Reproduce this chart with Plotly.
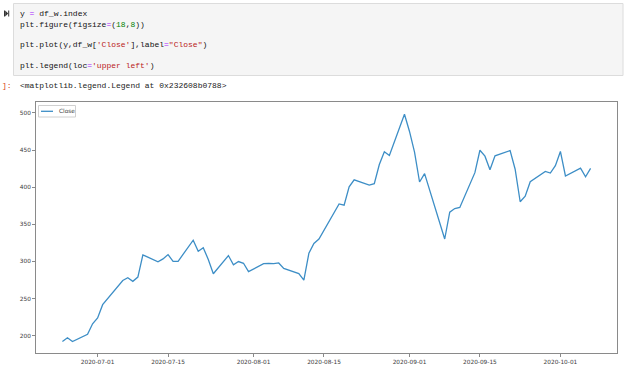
import plotly.graph_objects as go

# ---- data ----
dates = ["2020-06-24", "2020-06-25", "2020-06-26", "2020-06-29", "2020-06-30",
         "2020-07-01", "2020-07-02", "2020-07-06", "2020-07-07", "2020-07-08",
         "2020-07-09", "2020-07-10", "2020-07-13", "2020-07-14", "2020-07-15",
         "2020-07-16", "2020-07-17", "2020-07-20", "2020-07-21", "2020-07-22",
         "2020-07-23", "2020-07-24", "2020-07-27", "2020-07-28", "2020-07-29",
         "2020-07-30", "2020-07-31", "2020-08-03", "2020-08-04", "2020-08-05",
         "2020-08-06", "2020-08-07", "2020-08-10", "2020-08-11", "2020-08-12",
         "2020-08-13", "2020-08-14", "2020-08-17", "2020-08-18", "2020-08-19",
         "2020-08-20", "2020-08-21", "2020-08-24", "2020-08-25", "2020-08-26",
         "2020-08-27", "2020-08-28", "2020-08-31", "2020-09-01", "2020-09-02",
         "2020-09-03", "2020-09-04", "2020-09-08", "2020-09-09", "2020-09-10",
         "2020-09-11", "2020-09-14", "2020-09-15", "2020-09-16", "2020-09-17",
         "2020-09-18", "2020-09-21", "2020-09-22", "2020-09-23", "2020-09-24",
         "2020-09-25", "2020-09-28", "2020-09-29", "2020-09-30", "2020-10-01",
         "2020-10-02", "2020-10-05", "2020-10-06", "2020-10-07"]
close = [192.2, 197.2, 192.0, 201.9, 216.0,
         223.9, 241.7, 274.3, 278.0, 273.2,
         278.9, 308.9, 299.4, 303.4, 309.2,
         300.1, 300.2, 328.6, 313.7, 318.5,
         302.6, 283.4, 307.9, 295.3, 299.8,
         297.5, 286.2, 297.0, 297.4, 297.0,
         297.9, 290.5, 283.7, 274.9, 311.0,
         324.2, 330.1, 367.1, 377.4, 375.7,
         400.4, 410.0, 402.8, 404.7, 430.6,
         447.8, 442.7, 498.3, 475.1, 447.4,
         407.0, 418.3, 330.2, 366.3, 371.3,
         372.7, 419.6, 449.8, 441.8, 423.4,
         442.2, 449.4, 424.2, 380.4, 387.8,
         407.3, 421.2, 419.1, 429.0, 448.2,
         415.1, 425.7, 414.0, 425.3]
x_ticks = ["2020-07-01", "2020-07-15", "2020-08-01", "2020-08-15",
           "2020-09-01", "2020-09-15", "2020-10-01"]
y_ticks = [200, 250, 300, 350, 400, 450, 500]
series_name = "Close"

# ---- layout geometry (pixels) ----
W, H = 624, 366
L, R, T, B = 36, 617, 102, 353
PW, PH = R - L, B - T


def px(x):
    return (x - L) / PW


def py(y):
    return (B - y) / PH


LINE_COLOR = "#3d8ec6"
AX_COLOR = "#8a8a8a"

fig = go.Figure()
fig.add_trace(go.Scatter(x=dates, y=close, mode="lines", name=series_name,
                         line=dict(color=LINE_COLOR, width=1.3),
                         showlegend=False))

axis_common = dict(showline=True, linecolor=AX_COLOR, linewidth=1, mirror=True,
                   showgrid=False, zeroline=False, ticks="outside", ticklen=3,
                   tickcolor=AX_COLOR, tickwidth=1, automargin=False,
                   tickfont=dict(family="DejaVu Sans", size=5.8, color="#3a3a3a"))

fig.update_layout(
    width=W, height=H,
    margin=dict(l=L, r=W - R, t=T, b=H - B),
    paper_bgcolor="white", plot_bgcolor="white",
    xaxis=dict(type="date", range=["2020-06-18 18:00", "2020-10-12 06:00"],
               tickvals=x_ticks, ticktext=x_ticks, **axis_common),
    yaxis=dict(range=[176.6, 514.8], tickvals=y_ticks,
               ticktext=[str(v) for v in y_ticks], **axis_common),
)

shapes = []
# code cell box
shapes.append(dict(type="rect", xref="paper", yref="paper",
                   x0=px(13.5), x1=px(623), y0=py(3.5), y1=py(75.5),
                   fillcolor="#f5f5f5", line=dict(color="#dcdcdc", width=1),
                   layer="below"))
# run icon (bar + triangle + bar)
shapes.append(dict(type="rect", xref="paper", yref="paper",
                   x0=px(4), x1=px(5), y0=py(10.5), y1=py(16.5),
                   fillcolor="#333", line=dict(width=0)))
shapes.append(dict(type="path", xref="paper", yref="paper",
                   path="M %f %f L %f %f L %f %f Z" % (px(5.2), py(10.5), px(8.2), py(13.5), px(5.2), py(16.5)),
                   fillcolor="#333", line=dict(width=0)))
shapes.append(dict(type="rect", xref="paper", yref="paper",
                   x0=px(8.2), x1=px(9.2), y0=py(10.5), y1=py(16.5),
                   fillcolor="#333", line=dict(width=0)))
# legend box
shapes.append(dict(type="rect", xref="paper", yref="paper",
                   x0=px(38.5), x1=px(75.5), y0=py(105.5), y1=py(117),
                   fillcolor="white", line=dict(color="#d0d0d0", width=1)))
shapes.append(dict(type="line", xref="paper", yref="paper",
                   x0=px(41), x1=px(53), y0=py(111.3), y1=py(111.3),
                   line=dict(color=LINE_COLOR, width=1.3)))
fig.update_layout(shapes=shapes)

MONO = "Liberation Mono, DejaVu Sans Mono, monospace"
EQ = "#aa22ff"
NUM = "#008000"
STR = "#ba2121"


def c(txt, col):
    return '<span style="color:%s">%s</span>' % (col, txt)


code_lines = [
    (13.5, "y " + c("=", EQ) + " df_w.index"),
    (24.0, "plt.figure(figsize" + c("=", EQ) + "(" + c("18", NUM) + "," + c("8", NUM) + "))"),
    (45.0, "plt.plot(y,df_w[" + c("'Close'", STR) + "],label" + c("=", EQ) + c('"Close"', STR) + ")"),
    (66.0, "plt.legend(loc" + c("=", EQ) + c("'upper left'", STR) + ")"),
]

ann = []
for yy, txt in code_lines:
    ann.append(dict(xref="paper", yref="paper", x=px(17.5), y=py(yy), text=txt,
                    showarrow=False, xanchor="left", yanchor="middle",
                    font=dict(family=MONO, size=8, color="#111")))
ann.append(dict(xref="paper", yref="paper", x=px(0), y=py(85.5), text="]:",
                showarrow=False, xanchor="left", yanchor="middle",
                font=dict(family=MONO, size=8, color="#d84315")))
ann.append(dict(xref="paper", yref="paper", x=px(17.5), y=py(85.5),
                text="&lt;matplotlib.legend.Legend at 0x232608b0788&gt;",
                showarrow=False, xanchor="left", yanchor="middle",
                font=dict(family=MONO, size=8, color="#222")))
ann.append(dict(xref="paper", yref="paper", x=px(56.5), y=py(111.3), text=series_name,
                showarrow=False, xanchor="left", yanchor="middle",
                font=dict(family="DejaVu Sans", size=5.8, color="#3a3a3a")))
fig.update_layout(annotations=ann)

fig.write_html("out.html")
